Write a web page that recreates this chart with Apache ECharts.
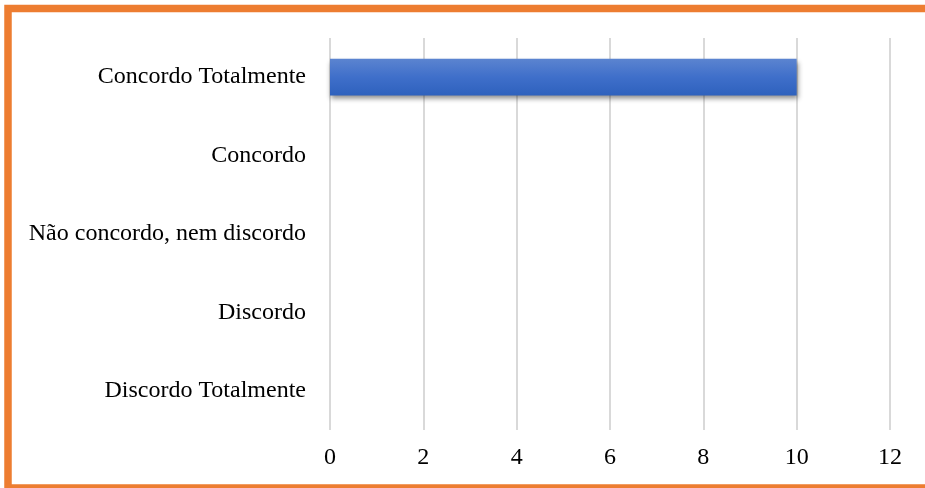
<!DOCTYPE html>
<html>
<head>
<meta charset="utf-8">
<script src="https://cdn.jsdelivr.net/npm/echarts@6/dist/echarts.min.js"></script>
<style>
html,body{margin:0;padding:0;background:#fff;}
#main{width:925px;height:488px;}
</style>
</head>
<body>
<div id="main"></div>
<script>
const categories = ["Discordo Totalmente", "Discordo", "Não concordo, nem discordo", "Concordo", "Concordo Totalmente"];
const values = [0, 0, 0, 0, 10];
const xTicks = [0, 2, 4, 6, 8, 10, 12];

const chart = echarts.init(document.getElementById('main'), null, {renderer: 'canvas'});
const font = '"Liberation Serif", "Times New Roman", serif';
chart.setOption({
  animation: false,
  backgroundColor: '#ffffff',
  textStyle: {fontFamily: font},
  grid: {left: 330, right: 35, top: 38, bottom: 58},
  xAxis: {
    type: 'value',
    min: xTicks[0],
    max: xTicks[xTicks.length - 1],
    interval: 2,
    axisLine: {show: false},
    axisTick: {show: false},
    axisLabel: {color: '#000', fontSize: 24, fontFamily: font, margin: 16},
    splitLine: {show: true, lineStyle: {color: '#d9d9d9', width: 2}}
  },
  yAxis: {
    type: 'category',
    data: categories,
    axisLine: {show: false},
    axisTick: {show: false},
    axisLabel: {color: '#000', fontSize: 24, fontFamily: font, margin: 24}
  },
  series: [{
    type: 'bar',
    data: values,
    barWidth: '47%',
    itemStyle: {
      color: new echarts.graphic.LinearGradient(0, 0, 0, 1, [
        {offset: 0, color: '#5b84d0'},
        {offset: 0.5, color: '#3f6fca'},
        {offset: 1, color: '#2e61bd'}
      ]),
      shadowColor: 'rgba(0,0,0,0.45)',
      shadowBlur: 5,
      shadowOffsetX: 1,
      shadowOffsetY: 3
    }
  }],
  graphic: [{
    type: 'rect',
    silent: true,
    z: 100,
    shape: {x: 8, y: 8.5, width: 1000, height: 479.5},
    style: {fill: 'none', stroke: '#ED7D31', lineWidth: 7.5}
  }]
});
</script>
</body>
</html>
